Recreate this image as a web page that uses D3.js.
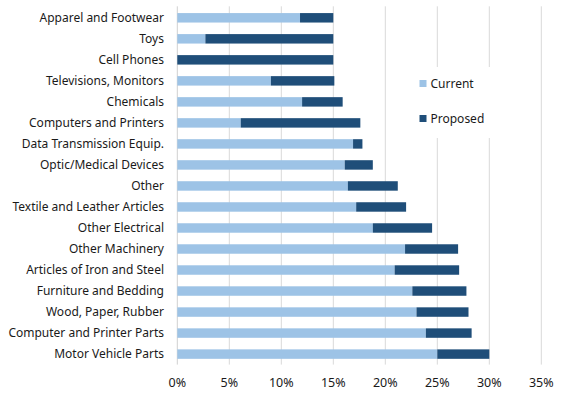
<!DOCTYPE html>
<html>
<head>
<meta charset="utf-8">
<script src="https://cdn.jsdelivr.net/npm/d3@7"></script>
<style>
  body { margin: 0; background: #fff; }
  svg { display: block; font-family: "Noto Sans", sans-serif; }
</style>
</head>
<body>
<svg id="chart" width="570" height="393"></svg>
<script>
const categories = [
  "Apparel and Footwear", "Toys", "Cell Phones", "Televisions, Monitors",
  "Chemicals", "Computers and Printers", "Data Transmission Equip.",
  "Optic/Medical Devices", "Other", "Textile and Leather Articles",
  "Other Electrical", "Other Machinery", "Articles of Iron and Steel",
  "Furniture and Bedding", "Wood, Paper, Rubber", "Computer and Printer Parts",
  "Motor Vehicle Parts"
];
const current  = [11.8, 2.7, 0, 9.0, 12.0, 6.1, 16.9, 16.1, 16.4, 17.2, 18.8, 21.9, 20.9, 22.6, 23.0, 23.9, 25.0];
const proposed = [3.2, 12.3, 15.0, 6.1, 3.9, 11.5, 0.9, 2.7, 4.8, 4.8, 5.7, 5.1, 6.2, 5.2, 5.0, 4.4, 5.0];
const seriesNames = ["Current", "Proposed"];
const xTicks = [0, 5, 10, 15, 20, 25, 30, 35];
const colors = ["#9dc3e6", "#1f4e79"];

const svg = d3.select("#chart");
const margin = { top: 7.3, right: 28.7, bottom: 28.4, left: 177.3 };
const width = 570, height = 393;

const rows = categories.map((c, i) => ({ cat: c, Current: current[i], Proposed: proposed[i] }));

const x = d3.scaleLinear().domain([0, 35]).range([margin.left, width - margin.right]);
const y = d3.scaleBand().domain(categories)
  .range([margin.top, height - margin.bottom])
  .paddingInner(0.55).paddingOuter(0.275);

// gridlines
svg.append("g")
  .selectAll("line")
  .data(xTicks.slice(1))
  .join("line")
  .attr("x1", d => x(d)).attr("x2", d => x(d))
  .attr("y1", margin.top - 1).attr("y2", height - margin.bottom)
  .attr("stroke", "#d9d9d9").attr("stroke-width", 1);

// category axis line
svg.append("line")
  .attr("x1", x(0)).attr("x2", x(0))
  .attr("y1", margin.top - 1).attr("y2", height - margin.bottom)
  .attr("stroke", "#d0d0d0");

const stacked = d3.stack().keys(seriesNames)(rows);

svg.append("g")
  .selectAll("g")
  .data(stacked)
  .join("g")
  .attr("fill", (d, i) => colors[i])
  .selectAll("rect")
  .data(d => d)
  .join("rect")
  .attr("x", d => x(d[0]))
  .attr("width", d => x(d[1]) - x(d[0]))
  .attr("y", d => y(d.data.cat))
  .attr("height", y.bandwidth());

// category labels
svg.append("g")
  .selectAll("text")
  .data(categories)
  .join("text")
  .attr("x", 164)
  .attr("y", d => y(d) + y.bandwidth() / 2)
  .attr("dy", "0.35em")
  .attr("text-anchor", "end")
  .attr("font-size", 12)
  .attr("fill", "#1a1a1a")
  .text(d => d);

// x tick labels
svg.append("g")
  .selectAll("text")
  .data(xTicks)
  .join("text")
  .attr("x", d => x(d))
  .attr("y", 383)
  .attr("dy", "0.35em")
  .attr("text-anchor", "middle")
  .attr("font-size", 12.5)
  .attr("fill", "#1a1a1a")
  .text(d => d + "%");

// legend
const legend = svg.append("g");
legend.append("rect")
  .attr("x", 414).attr("y", 67).attr("width", 82).attr("height", 71)
  .attr("fill", "#fff");
const items = legend.selectAll("g")
  .data(seriesNames)
  .join("g")
  .attr("transform", (d, i) => `translate(419.5,${80 + i * 35})`);
items.append("rect")
  .attr("width", 7).attr("height", 7)
  .attr("fill", (d, i) => colors[i]);
items.append("text")
  .attr("x", 11).attr("y", 3.5).attr("dy", "0.35em")
  .attr("font-size", 12).attr("fill", "#1a1a1a")
  .text(d => d);
</script>
</body>
</html>
